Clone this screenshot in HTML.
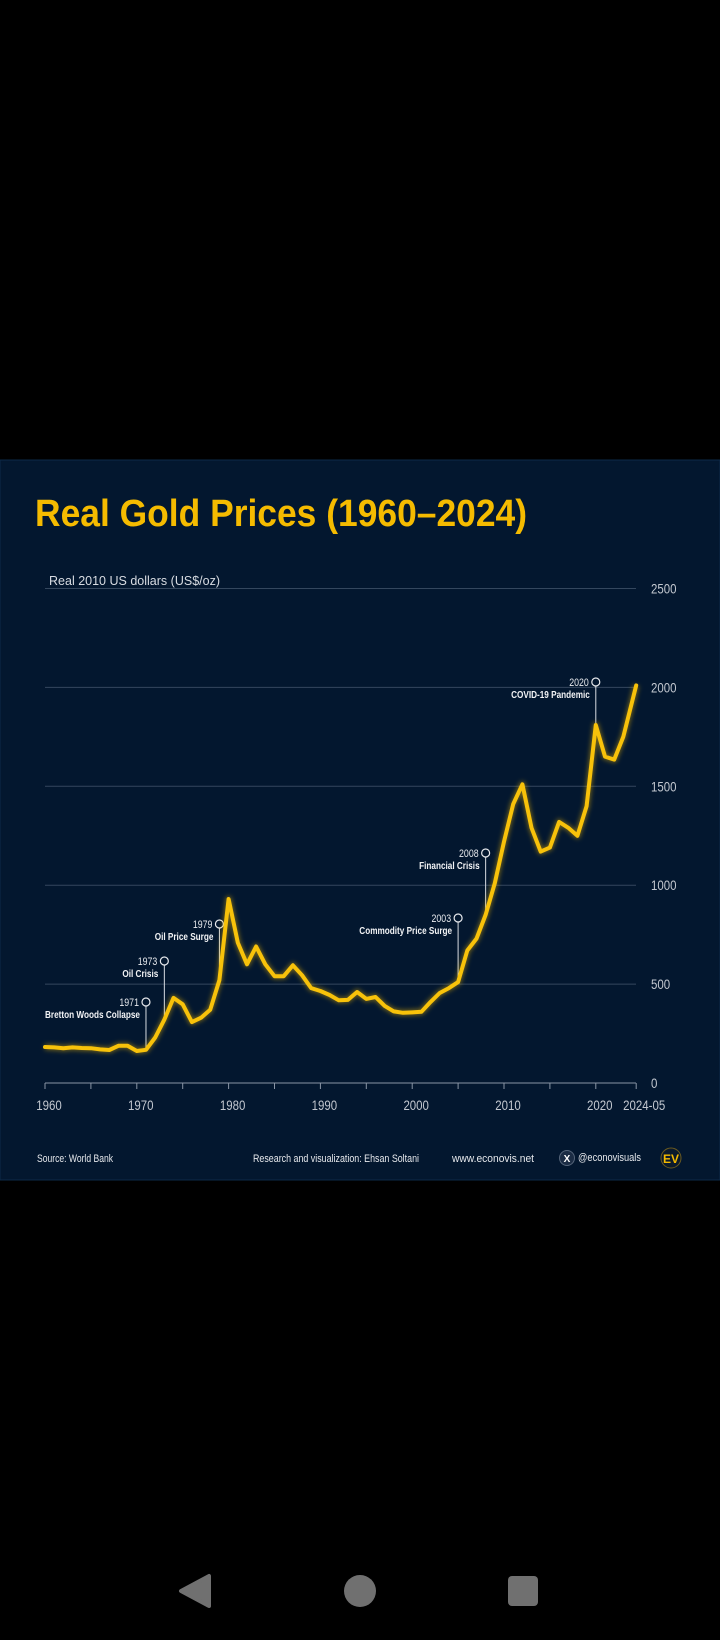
<!DOCTYPE html>
<html><head><meta charset="utf-8"><style>
html,body{margin:0;padding:0;background:#000;width:720px;height:1640px;overflow:hidden}
svg{display:block}
text{font-family:"Liberation Sans",sans-serif}
</style></head><body>
<svg id="chart" width="720" height="1640" viewBox="0 0 720 1640">
<defs><filter id="glow" x="-10%" y="-10%" width="120%" height="120%"><feGaussianBlur stdDeviation="2.5"/></filter></defs>
<rect x="0" y="460" width="720" height="720" fill="#03172f" stroke="#0d2a48"/>
<text x="35" y="526" font-size="38" font-weight="bold" fill="#f5bb00" textLength="492" lengthAdjust="spacingAndGlyphs">Real Gold Prices (1960–2024)</text>
<text x="49" y="585" font-size="13" fill="#d8dce2" textLength="171" lengthAdjust="spacingAndGlyphs">Real 2010 US dollars (US$/oz)</text>
<g id="grid"></g><g id="xaxis"></g><g id="ann"></g><g id="series"></g>
<g font-size="11" fill="#e6e8ec">
<text x="37" y="1162" textLength="76" lengthAdjust="spacingAndGlyphs">Source: World Bank</text>
<text x="253" y="1162" textLength="166" lengthAdjust="spacingAndGlyphs">Research and visualization: Ehsan Soltani</text>
<text x="452" y="1162" textLength="82" lengthAdjust="spacingAndGlyphs">www.econovis.net</text>
<circle cx="567" cy="1158" r="7.5" fill="#1b2c44" stroke="#55657a"/>
<text x="567" y="1162" font-size="10" font-weight="bold" text-anchor="middle" fill="#fff">X</text>
<text x="578" y="1161" textLength="63" lengthAdjust="spacingAndGlyphs">@econovisuals</text>
<circle cx="671" cy="1158" r="10" fill="#0b1a2c" stroke="#6a5a20"/>
<text x="671" y="1163" font-size="12" font-weight="bold" text-anchor="middle" fill="#f5bb00">EV</text>
</g>
<g fill="#707070">
<path d="M181 1591 L209 1576 L209 1606 Z" stroke="#707070" stroke-width="4" stroke-linejoin="round"/>
<circle cx="360" cy="1591" r="16"/>
<rect x="508" y="1576" width="30" height="30" rx="4"/>
</g>
</svg>
<script>
const years=[1960,1961,1962,1963,1964,1965,1966,1967,1968,1969,1970,1971,1972,1973,1974,1975,1976,1977,1978,1979,1980,1981,1982,1983,1984,1985,1986,1987,1988,1989,1990,1991,1992,1993,1994,1995,1996,1997,1998,1999,2000,2001,2002,2003,2004,2005,2006,2007,2008,2009,2010,2011,2012,2013,2014,2015,2016,2017,2018,2019,2020,2021,2022,2023,2024.4];
const prices=[182,180,176,180,177,176,170,167,188,188,162,168,230,320,430,398,308,330,370,520,930,710,600,690,600,540,540,595,545,480,465,445,418,420,460,425,435,390,362,355,357,360,410,455,480,510,670,730,850,1010,1220,1410,1510,1290,1170,1190,1320,1290,1250,1400,1810,1650,1635,1750,2010];
const yTicks=[0,500,1000,1500,2000,2500];
const xTickLabels=["1960","1970","1980","1990","2000","2010","2020","2024-05"];
const xTickYears=[1960,1970,1980,1990,2000,2010,2020,2024.4];
const annYears=[1971,1973,1979,2005,2008,2020];
const annYearLabels=["1971","1973","1979","2003","2008","2020"];
const annTexts=["Bretton Woods Collapse","Oil Crisis","Oil Price Surge","Commodity Price Surge","Financial Crisis","COVID-19 Pandemic"];
const annTops=[1002,961,924,918,853,682];

const NS="http://www.w3.org/2000/svg";
const X=y=>45+(y-1960)*9.18;
const Y=v=>1083-v*0.1978;
function mk(tag,attrs,parent,txt){const e=document.createElementNS(NS,tag);for(const k in attrs)e.setAttribute(k,attrs[k]);if(txt!==undefined)e.textContent=txt;parent.appendChild(e);return e;}
function squeeze(t,f){const w=t.getComputedTextLength();t.setAttribute('textLength',(w*f).toFixed(1));t.setAttribute('lengthAdjust','spacingAndGlyphs');}
const grid=document.getElementById('grid'),xa=document.getElementById('xaxis'),ann=document.getElementById('ann'),ser=document.getElementById('series');
yTicks.forEach(v=>{
  if(v>0){const l=mk('line',{x1:45,x2:636,y1:Y(v),y2:Y(v),stroke:'#34475e','stroke-width':1},grid);
  
  }
  const t=mk('text',{x:651,y:Y(v)+5,'font-size':13.5,fill:'#c3c8d0'},grid,String(v));
  
  
  squeeze(t,0.85);
});
const ax=mk('line',{x1:45,x2:636,y1:1083,y2:1083,stroke:'#8a96a6','stroke-width':1},xa);


for(let yr=1960;yr<=2024;yr+=5){mk('line',{x1:X(yr),x2:X(yr),y1:1083,y2:1089,stroke:'#8a96a6'},xa);}
mk('line',{x1:X(2024.4),x2:X(2024.4),y1:1083,y2:1089,stroke:'#8a96a6'},xa);
xTickLabels.forEach((s,i)=>{
  const t=mk('text',{x:X(xTickYears[i])+(i==7?8:4),y:1110,'font-size':13.5,fill:'#c3c8d0','text-anchor':'middle'},xa,s);
  
  
  squeeze(t,0.85);
});
annYears.forEach((yr,i)=>{
  const idx=years.indexOf(yr),x=X(yr),top=annTops[i];
  const g=mk('g',{},ann);
  
  
  mk('line',{x1:x,x2:x,y1:top+4,y2:Y(prices[idx]),stroke:'#d8dce2','stroke-width':1},g);
  mk('circle',{cx:x,cy:top,r:4,fill:'none',stroke:'#e8eaee','stroke-width':1.2},g);
  const a=mk('text',{x:x-7,y:top+4,'font-size':11,fill:'#e8eaee','text-anchor':'end'},g,annYearLabels[i]);
  squeeze(a,0.8);
  const b=mk('text',{x:x-6,y:top+16,'font-size':10.5,'font-weight':'bold',fill:'#f2f3f5','text-anchor':'end'},g,annTexts[i]);
  squeeze(b,0.78);
});
const d=years.map((y,i)=>(i?'L':'M')+X(y).toFixed(1)+' '+Y(prices[i]).toFixed(1)).join(' ');
mk('path',{d:d,fill:'none',stroke:'#f5bb00','stroke-width':6,'stroke-opacity':0.45,filter:'url(#glow)','stroke-linejoin':'round'},ser);
const p=mk('path',{d:d,fill:'none',stroke:'#f8c20a','stroke-width':4,'stroke-linejoin':'round','stroke-linecap':'round'},ser);


</script>
</body></html>
